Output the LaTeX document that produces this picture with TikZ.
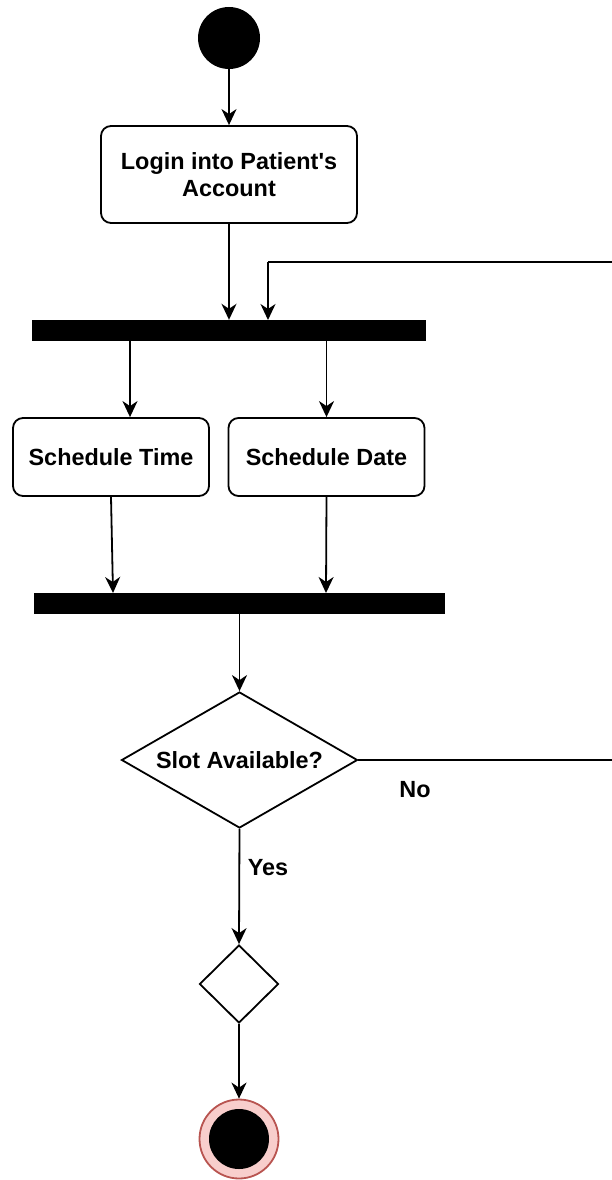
\documentclass[tikz,border=0pt]{standalone}
\usepackage{fontspec}
\setmainfont{Liberation Sans}
\usetikzlibrary{arrows.meta,shapes.geometric}
\definecolor{endfill}{HTML}{F8CECC}
\definecolor{endline}{HTML}{B85450}
% straight apostrophe glyph, bypassing the TeX quote mapping
\newcommand\straightapos{\XeTeXglyph\XeTeXglyphindex "quotesingle" \relax}
\begin{document}
\begin{tikzpicture}[x=1pt,y=-1pt,
  lbl/.style={font=\bfseries\fontsize{23.4}{27}\selectfont},
  action/.style={draw, line width=1.8pt, rounded corners=10pt, fill=white,
    align=center, inner sep=0pt, lbl},
  bar/.style={fill=black, draw=none, inner sep=0pt},
  decision/.style={diamond, draw, line width=1.8pt, fill=white, inner sep=0pt, lbl},
  flow/.style={draw, line width=1.8pt, -{Stealth[length=16pt,width=15pt,inset=5pt]}},
  link/.style={draw, line width=1.8pt}
]
\useasboundingbox (0,0) rectangle (612,1180);

% initial node
\node[circle, fill=black, minimum size=62pt, inner sep=0pt] (start) at (229,38) {};

% actions
\node[action, minimum width=256pt, minimum height=97pt] (login) at (229,174.5)
  {Login into Patient\straightapos s\\Account};
\node[bar, minimum width=394pt, minimum height=21pt] (fork) at (229,330.5) {};
\node[action, minimum width=196pt, minimum height=78pt] (time) at (111,457) {Schedule Time};
\node[action, minimum width=196pt, minimum height=78pt] (date) at (326.5,457) {Schedule Date};
\node[bar, minimum width=411pt, minimum height=21pt] (join) at (239.5,603.5) {};

% decisions
\node[decision, minimum width=236pt, minimum height=136pt, aspect=1.735] (slot) at (239.5,760) {Slot Available?};
\node[diamond, draw, line width=1.8pt, inner sep=0pt, minimum width=79pt, minimum height=78pt, aspect=1] (merge) at (239,984) {};

% final node
\node[circle, draw=endline, fill=endfill, line width=1.8pt, minimum size=79pt, inner sep=0pt] (stop) at (239,1139) {};
\node[circle, fill=black, minimum size=60pt, inner sep=0pt] (stopdot) at (239,1139) {};

% helper points on the bars and the return loop
\coordinate (forkA) at (130,341);
\coordinate (forkB) at (326.5,341);
\coordinate (joinA) at (113,593);
\coordinate (joinB) at (326,593);
\coordinate (loopIn) at (268,320);
\coordinate (loopR1) at (630,760);
\coordinate (loopR2) at (630,262);
\coordinate (loopL) at (268,262);

% connectors
\draw[flow] (start) -- (login);
\draw[flow] (login.south) -- (login.south |- fork.north);
\draw[flow] (forkA) -- (forkA |- time.north);
\draw[flow] (forkB) -- (forkB |- date.north);
\draw[flow] (time.south) -- (joinA);
\draw[flow] (date.south) -- (joinB);
\draw[flow] (join.south -| slot.north) -- (slot.north);
\draw[flow] (slot.south) -- (merge.north);
\draw[flow] (merge.south) -- (stop.north);
\draw[link] (slot.east) -- (loopR1) -- (loopR2) -- (loopL);
\draw[flow] (loopL) -- (loopIn);

% guard labels
\node[lbl] (no) at (415,790) {No};
\node[lbl] (yes) at (268,868) {Yes};
\end{tikzpicture}
\end{document}
